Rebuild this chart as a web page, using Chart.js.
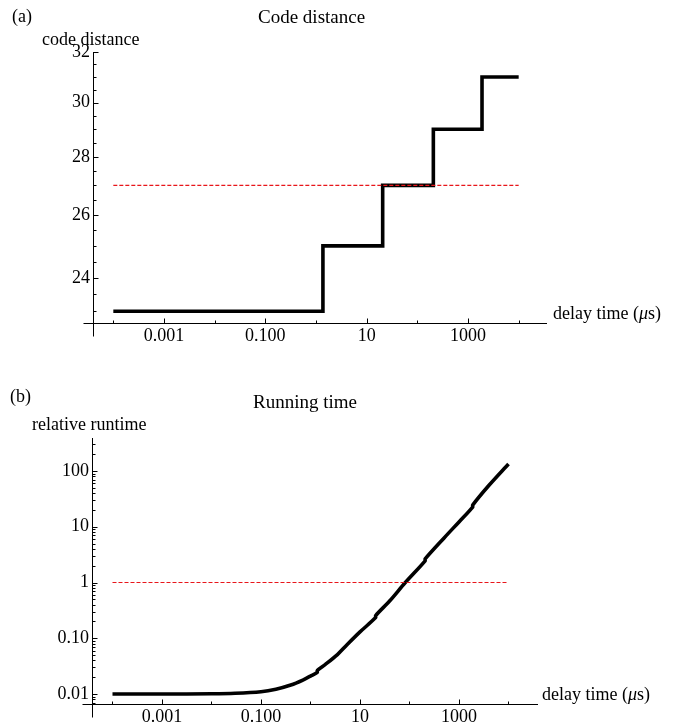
<!DOCTYPE html>
<html>
<head>
<meta charset="utf-8">
<script src="https://cdn.jsdelivr.net/npm/chart.js@4.4.1/dist/chart.umd.min.js"></script>
<style>
  html, body { margin: 0; padding: 0; background: #fff; }
  #wrap { width: 681px; height: 724px; }
  canvas { display: block; }
</style>
</head>
<body>
<div id="wrap">
  <canvas id="chartA" width="681" height="362"></canvas>
  <canvas id="chartB" width="681" height="362"></canvas>
</div>
<script>
// (a) code distance vs delay time
const delaySteps = [1e-4, 1.37, 20.7, 207, 1890, 1e4];
const codeDistance = [23, 25, 27, 29, 31, 31];
const distanceLimit = 27;

// (b) relative runtime vs delay time (small jumps where the distance steps up)
const delayRun = [1e-4, 1e-3, 0.01, 0.03, 0.1, 0.2, 0.4, 0.7, 1.0, 1.37, 1.37, 2, 3.5, 5.4, 10, 20.7, 20.7, 40, 81.5, 207, 207, 500, 1000, 1890, 1890, 4000, 1e4];
const runtime = [0.0100, 0.0100, 0.0101, 0.0103, 0.0110, 0.0122, 0.0145, 0.0178, 0.021, 0.0245, 0.0265, 0.034, 0.051, 0.0757, 0.13, 0.235, 0.255, 0.47, 0.99, 2.45, 2.65, 6.3, 12.2, 22.5, 24.5, 55, 134];
const runtimeLimit = 1;

const limitSpan = [1e-4, 1e4];

// ticks
const xMajor = [0.001, 0.1, 10, 1000];
const xMajorLabels = ['0.001', '0.100', '10', '1000'];
const xMinor = [1e-4, 0.01, 1, 100, 1e4];
const yMajorA = [24, 26, 28, 30, 32];
const yMajorLabelsA = ['24', '26', '28', '30', '32'];
const yMinorA = [23, 23.5, 24.5, 25, 25.5, 26.5, 27, 27.5, 28.5, 29, 29.5, 30.5, 31, 31.5];
const yMajorB = [0.01, 0.1, 1, 10, 100];
const yMajorLabelsB = ['0.01', '0.10', '1', '10', '100'];
const yMinorB = [];
[0.001, 0.01, 0.1, 1, 10, 100].forEach(d => {
    [2, 3, 4, 5, 6, 7, 8, 9].forEach(m => yMinorB.push(+(m * d).toPrecision(3)));
});

const FONT = '"Liberation Serif", "Times New Roman", serif';
Chart.defaults.font.family = FONT;
Chart.defaults.font.size = 18;
Chart.defaults.color = '#000';

function pts(xs, ys) { return xs.map((x, i) => ({ x: x, y: ys[i] })); }

function line(ctx, x1, y1, x2, y2) {
    ctx.beginPath(); ctx.moveTo(x1, y1); ctx.lineTo(x2, y2); ctx.stroke();
}

// Mathematica-like axes: crossing lines, ticks pointing inward
const axesPlugin = {
    id: 'mmaAxes',
    beforeDatasetsDraw(chart) {
        const { ctx, chartArea: a, scales } = chart;
        const L = Math.round(a.left) + 0.5, B = Math.round(a.bottom) + 0.5;
        ctx.save();
        ctx.strokeStyle = '#000';
        ctx.lineWidth = 1;
        line(ctx, L - 10, B, a.right, B);
        line(ctx, L, a.top, L, B + 13);
        scales.x.ticks.forEach(t => {
            const px = Math.round(scales.x.getPixelForValue(t.value)) + 0.5;
            line(ctx, px, B, px, B - (t.big ? 5 : 3));
        });
        scales.y.ticks.forEach(t => {
            const py = Math.round(scales.y.getPixelForValue(t.value)) + 0.5;
            line(ctx, L, py, L + (t.big ? 5 : 3), py);
        });
        ctx.restore();
    }
};

const textPlugin = {
    id: 'panelText',
    afterDraw(chart, args, o) {
        const ctx = chart.ctx;
        ctx.save();
        ctx.fillStyle = '#000';
        ctx.textAlign = 'left';
        ctx.textBaseline = 'middle';
        ctx.font = '18px ' + FONT;
        ctx.fillText(o.tag, o.tagX, o.tagY);
        ctx.fillText(o.yLabel, o.yLabelX, o.yLabelY);
        ctx.font = '19px ' + FONT;
        ctx.fillText(o.title, o.titleX, o.titleY);
        let x = o.xLabelX;
        [['delay time (', ''], ['\u03bc', 'italic '], ['s)', '']].forEach(p => {
            ctx.font = p[1] + '18px ' + FONT;
            ctx.fillText(p[0], x, o.xLabelY);
            x += ctx.measureText(p[0]).width;
        });
        ctx.restore();
    }
};

function makeChart(id, c) {
    const xTicks = xMinor.concat(xMajor).sort((p, q) => p - q);
    const yTicks = c.yMinor.concat(c.yMajor).sort((p, q) => p - q);
    return new Chart(document.getElementById(id), {
        type: 'line',
        data: {
            datasets: [
                { data: pts(limitSpan, [c.limit, c.limit]), borderColor: '#e8161b', borderWidth: 1.2, borderDash: [4, 2], pointRadius: 0 },
                { data: pts(c.xs, c.ys), borderColor: '#000', borderWidth: 3.6, pointRadius: 0, stepped: c.stepped, tension: c.tension, borderJoinStyle: 'miter', borderCapStyle: 'butt' }
            ]
        },
        options: {
            responsive: false,
            animation: false,
            layout: { padding: c.padding },
            plugins: { legend: { display: false }, tooltip: { enabled: false }, panelText: c.text },
            scales: {
                x: {
                    type: 'logarithmic', min: c.xMin, max: c.xMax, bounds: 'data',
                    grid: { display: false, drawTicks: false }, border: { display: false },
                    afterBuildTicks: s => { s.ticks = xTicks.map(v => ({ value: v, big: xMajor.includes(v) })); },
                    afterFit: s => { s.height = 20; },
                    ticks: {
                        autoSkip: false, maxRotation: 0, padding: 2,
                        callback: v => { const i = xMajor.indexOf(v); return i >= 0 ? xMajorLabels[i] : ''; }
                    }
                },
                y: {
                    type: 'logarithmic', min: c.yMin, max: c.yMax, bounds: 'data',
                    grid: { display: false, drawTicks: false }, border: { display: false },
                    afterBuildTicks: s => { s.ticks = yTicks.map(v => ({ value: v, big: c.yMajor.includes(v) })); },
                    afterFit: s => { s.width = c.left; },
                    ticks: {
                        autoSkip: false, padding: 3,
                        callback: v => { const i = c.yMajor.indexOf(v); return i >= 0 ? c.yLabels[i] : ''; }
                    }
                }
            }
        },
        plugins: [axesPlugin, textPlugin]
    });
}

makeChart('chartA', {
    xs: delaySteps, ys: codeDistance, limit: distanceLimit, stepped: 'before', tension: 0,
    xMin: Math.pow(10, -4.401), xMax: Math.pow(10, 4.559), yMin: 22.66, yMax: 32,
    yMajor: yMajorA, yMinor: yMinorA, yLabels: yMajorLabelsA,
    left: 93, padding: { left: 0, top: 52, right: 134, bottom: 19 },
    text: { tag: '(a)', tagX: 12, tagY: 17, title: 'Code distance', titleX: 258, titleY: 18,
            yLabel: 'code distance', yLabelX: 42, yLabelY: 40, xLabelX: 553, xLabelY: 314 }
});

makeChart('chartB', {
    xs: delayRun, ys: runtime, limit: runtimeLimit, stepped: false, tension: 0.3,
    xMin: Math.pow(10, -4.414), xMax: Math.pow(10, 4.596), yMin: Math.pow(10, -2.179), yMax: Math.pow(10, 2.592),
    yMajor: yMajorB, yMinor: yMinorB.filter(v => v > 0.0066 && v < 391), yLabels: yMajorLabelsB,
    left: 92, padding: { left: 0, top: 76, right: 143, bottom: 0 },
    text: { tag: '(b)', tagX: 10, tagY: 35, title: 'Running time', titleX: 253, titleY: 41,
            yLabel: 'relative runtime', yLabelX: 32, yLabelY: 63, xLabelX: 542, xLabelY: 333 }
});
</script>
</body>
</html>
